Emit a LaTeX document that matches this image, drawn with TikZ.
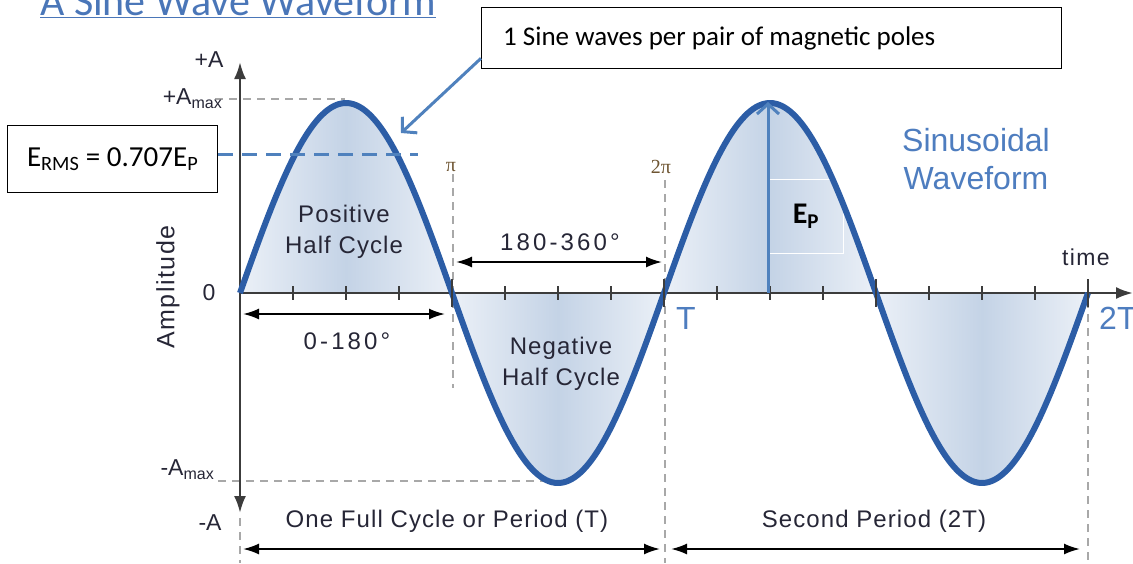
\documentclass[tikz,border=0pt]{standalone}
\usepackage{fontspec}
\setmainfont{Liberation Sans}
\newfontfamily\calib{Carlito}
\newfontfamily\serifpi{Liberation Serif}
\usetikzlibrary{arrows.meta,calc}
\definecolor{wave}{HTML}{2C5DA6}
\definecolor{lblue}{HTML}{4F81BD}
\definecolor{titleblue}{HTML}{4A76B8}
\definecolor{sinblue}{HTML}{4E7DBF}
\definecolor{txt}{HTML}{262636}
\definecolor{dgray}{HTML}{A8A8A8}
\definecolor{axisc}{HTML}{3C3C3C}
\definecolor{fillE}{HTML}{EBF0F7}
\definecolor{fillM}{HTML}{C4D3E6}
\definecolor{pic}{HTML}{6E5532}
\newcommand{\lsp}[1]{\addfontfeature{LetterSpace=#1}}
\begin{document}
\begin{tikzpicture}[x=1pt,y=-1pt,
  lab/.style={text=txt, inner sep=0pt, align=center, font=\fontsize{24}{30}\selectfont\lsp{4.5}},
  numlab/.style={text=txt, inner sep=0pt, font=\fontsize{24}{30}\selectfont\lsp{13}},
  axlab/.style={text=txt, inner sep=0pt, font=\fontsize{23}{26}\selectfont},
  pilab/.style={text=pic, inner sep=0pt, font=\serifpi\fontsize{20}{22}\selectfont},
  gdash/.style={draw=dgray, line width=2.2pt, dash pattern=on 8pt off 6pt},
  axisline/.style={draw=axisc, line width=2.5pt, -{Latex[length=17pt,width=12pt]}},
  dimarrow/.style={draw=black, line width=2pt, {Latex[length=16pt,width=11pt]}-{Latex[length=16pt,width=11pt]}},
  bluearrow/.style={draw=lblue, line width=3pt, -{Straight Barb[length=10pt,width=22pt,line width=3pt]}},
  tick/.style={draw=axisc, line width=1.6pt},
]
\useasboundingbox (0,0) rectangle (1133,563);

% title (cut off at the top)
\node[anchor=base west, inner sep=0pt, text=titleblue, font=\calib\fontsize{42}{46}\selectfont] (title) at (40,15) {\underline{A Sine Wave Waveform}};

% shaded lobes
\foreach \k in {0,1,2,3} {
  \pgfmathsetmacro\xa{240+212*\k}
  \pgfmathsetmacro\xb{\xa+212}
  \shade[left color=fillE, right color=fillE, middle color=fillM]
    plot[domain=\xa:\xb, samples=60] (\x,{293-190*sin(0.8490566*(\x-240))}) -- cycle;
}

% coordinates
\coordinate (O) at (240,293);
\coordinate (ytop) at (240,62);
\coordinate (ybot) at (240,513);
\coordinate (xend) at (1133,293);

% dashed guide lines
\draw[gdash] (215,99) -- (345,99);
\draw[gdash] (218,481) -- (552,481);
\draw[gdash] (453,174) -- (453,388);
\draw[gdash] (665,180) -- (665,563);
\draw[gdash] (1088,300) -- (1088,563);
\draw[gdash] (240,518) -- (240,563);

% axes
\draw[axisline] (O) -- (ytop);
\draw[axisline] (O) -- (ybot);
\draw[axisline] (O) -- (xend);
\foreach \t in {1,2,3,5,6,7,9,10,11,13,14,15}
  \draw[tick] ({240+53*\t},286) -- ++(0,14);

% E_P box
\node[draw=white, line width=1pt, anchor=north west, minimum width=75pt, minimum height=74pt, inner sep=0pt,
      font=\calib\bfseries\fontsize{30}{34}\selectfont] (epbox) at (768,179) {E\textsubscript{P}};

% sine wave
\draw[wave, line width=6pt, line join=round] plot[domain=240:1088, samples=300] (\x,{293-190*sin(0.8490566*(\x-240))});
\foreach \t in {4,8,12,16}
  \draw[tick] ({240+53*\t},279) -- ++(0,28);

% E_P arrow
\coordinate (epb) at (768,293);
\coordinate (ept) at (768,102);
\draw[bluearrow] (epb) -- (ept);

% E_RMS box and dashed line
\node[draw=black, line width=1.3pt, anchor=north west, minimum width=210pt, minimum height=67pt, inner sep=0pt,
      font=\calib\fontsize{29}{33}\selectfont] (erms) at (7,125) {E\textsubscript{RMS} = 0.707E\textsubscript{P}};
\coordinate (rmsend) at (418,154);
\draw[draw=lblue, line width=3pt, dash pattern=on 15pt off 9pt] (erms.east |- rmsend) -- (rmsend);

% note box and connector
\node[draw=black, line width=1.3pt, anchor=north west, minimum width=580pt, minimum height=61pt, inner sep=0pt] (note) at (481,7) {};
\node[anchor=west, inner sep=0pt, font=\calib\fontsize{27}{31}\selectfont] (notetext) at (503,38) {1 Sine waves per pair of magnetic poles};
\coordinate (notetip) at (401,133);
\draw[bluearrow] ($(note.south west)+(0,-11)$) -- (notetip);

% axis labels
\node[axlab] (plusA) at (209,60) {+A};
\node[axlab, anchor=east] (plusAmax) at (222,99) {+A\raisebox{-4pt}{\fontsize{16}{17}\selectfont max}};
\node[axlab] (zero) at (209,293) {0};
\node[axlab, anchor=east] (minusAmax) at (214,470) {-A\raisebox{-4pt}{\fontsize{16}{17}\selectfont max}};
\node[axlab] (minusA) at (210,523) {-A};
\node[lab, rotate=90, font=\fontsize{25}{30}\selectfont\lsp{6}] (ampl) at (168,287) {Amplitude};
\node[axlab, font=\fontsize{23}{26}\selectfont\lsp{6}] (time) at (1086,257) {time};
\node[text=sinblue, inner sep=0pt, anchor=west, font=\fontsize{32}{36}\selectfont] (T) at (676,318) {T};
\node[text=sinblue, inner sep=0pt, anchor=west, font=\fontsize{32}{36}\selectfont] (TT) at (1099,318) {2T};
\node[pilab] (pi1) at (451,167) {π};
\node[pilab] (pi2) at (661,167) {2π};

% region labels
\node[lab, font=\fontsize{24}{31}\selectfont\lsp{4.5}] (pos) at (344,232) {Positive\\Half Cycle};
\node[lab, font=\fontsize{24}{31}\selectfont\lsp{4.5}] (neg) at (561,364) {Negative\\Half Cycle};
\node[text=sinblue, inner sep=0pt, align=center, font=\fontsize{32}{38}\selectfont] (sinus) at (976,159) {Sinusoidal\\Waveform};

% dimension arrows
\coordinate (a1l) at (243,314); \coordinate (a1r) at (445,314);
\draw[dimarrow] (a1l) -- (a1r);
\node[numlab] (l0180) at (347,341) {0-180°};
\coordinate (a2l) at (456,262); \coordinate (a2r) at (662,262);
\draw[dimarrow] (a2l) -- (a2r);
\node[numlab] (l180360) at (560,242) {180-360°};
\coordinate (p1l) at (243,549); \coordinate (p1r) at (660,549);
\draw[dimarrow] (p1l) -- (p1r);
\node[lab] (per1) at (447,521) {One Full Cycle or Period (T)};
\coordinate (p2l) at (671,549); \coordinate (p2r) at (1080,549);
\draw[dimarrow] (p2l) -- (p2r);
\node[lab] (per2) at (874,521) {Second Period (2T)};
\end{tikzpicture}
\end{document}
